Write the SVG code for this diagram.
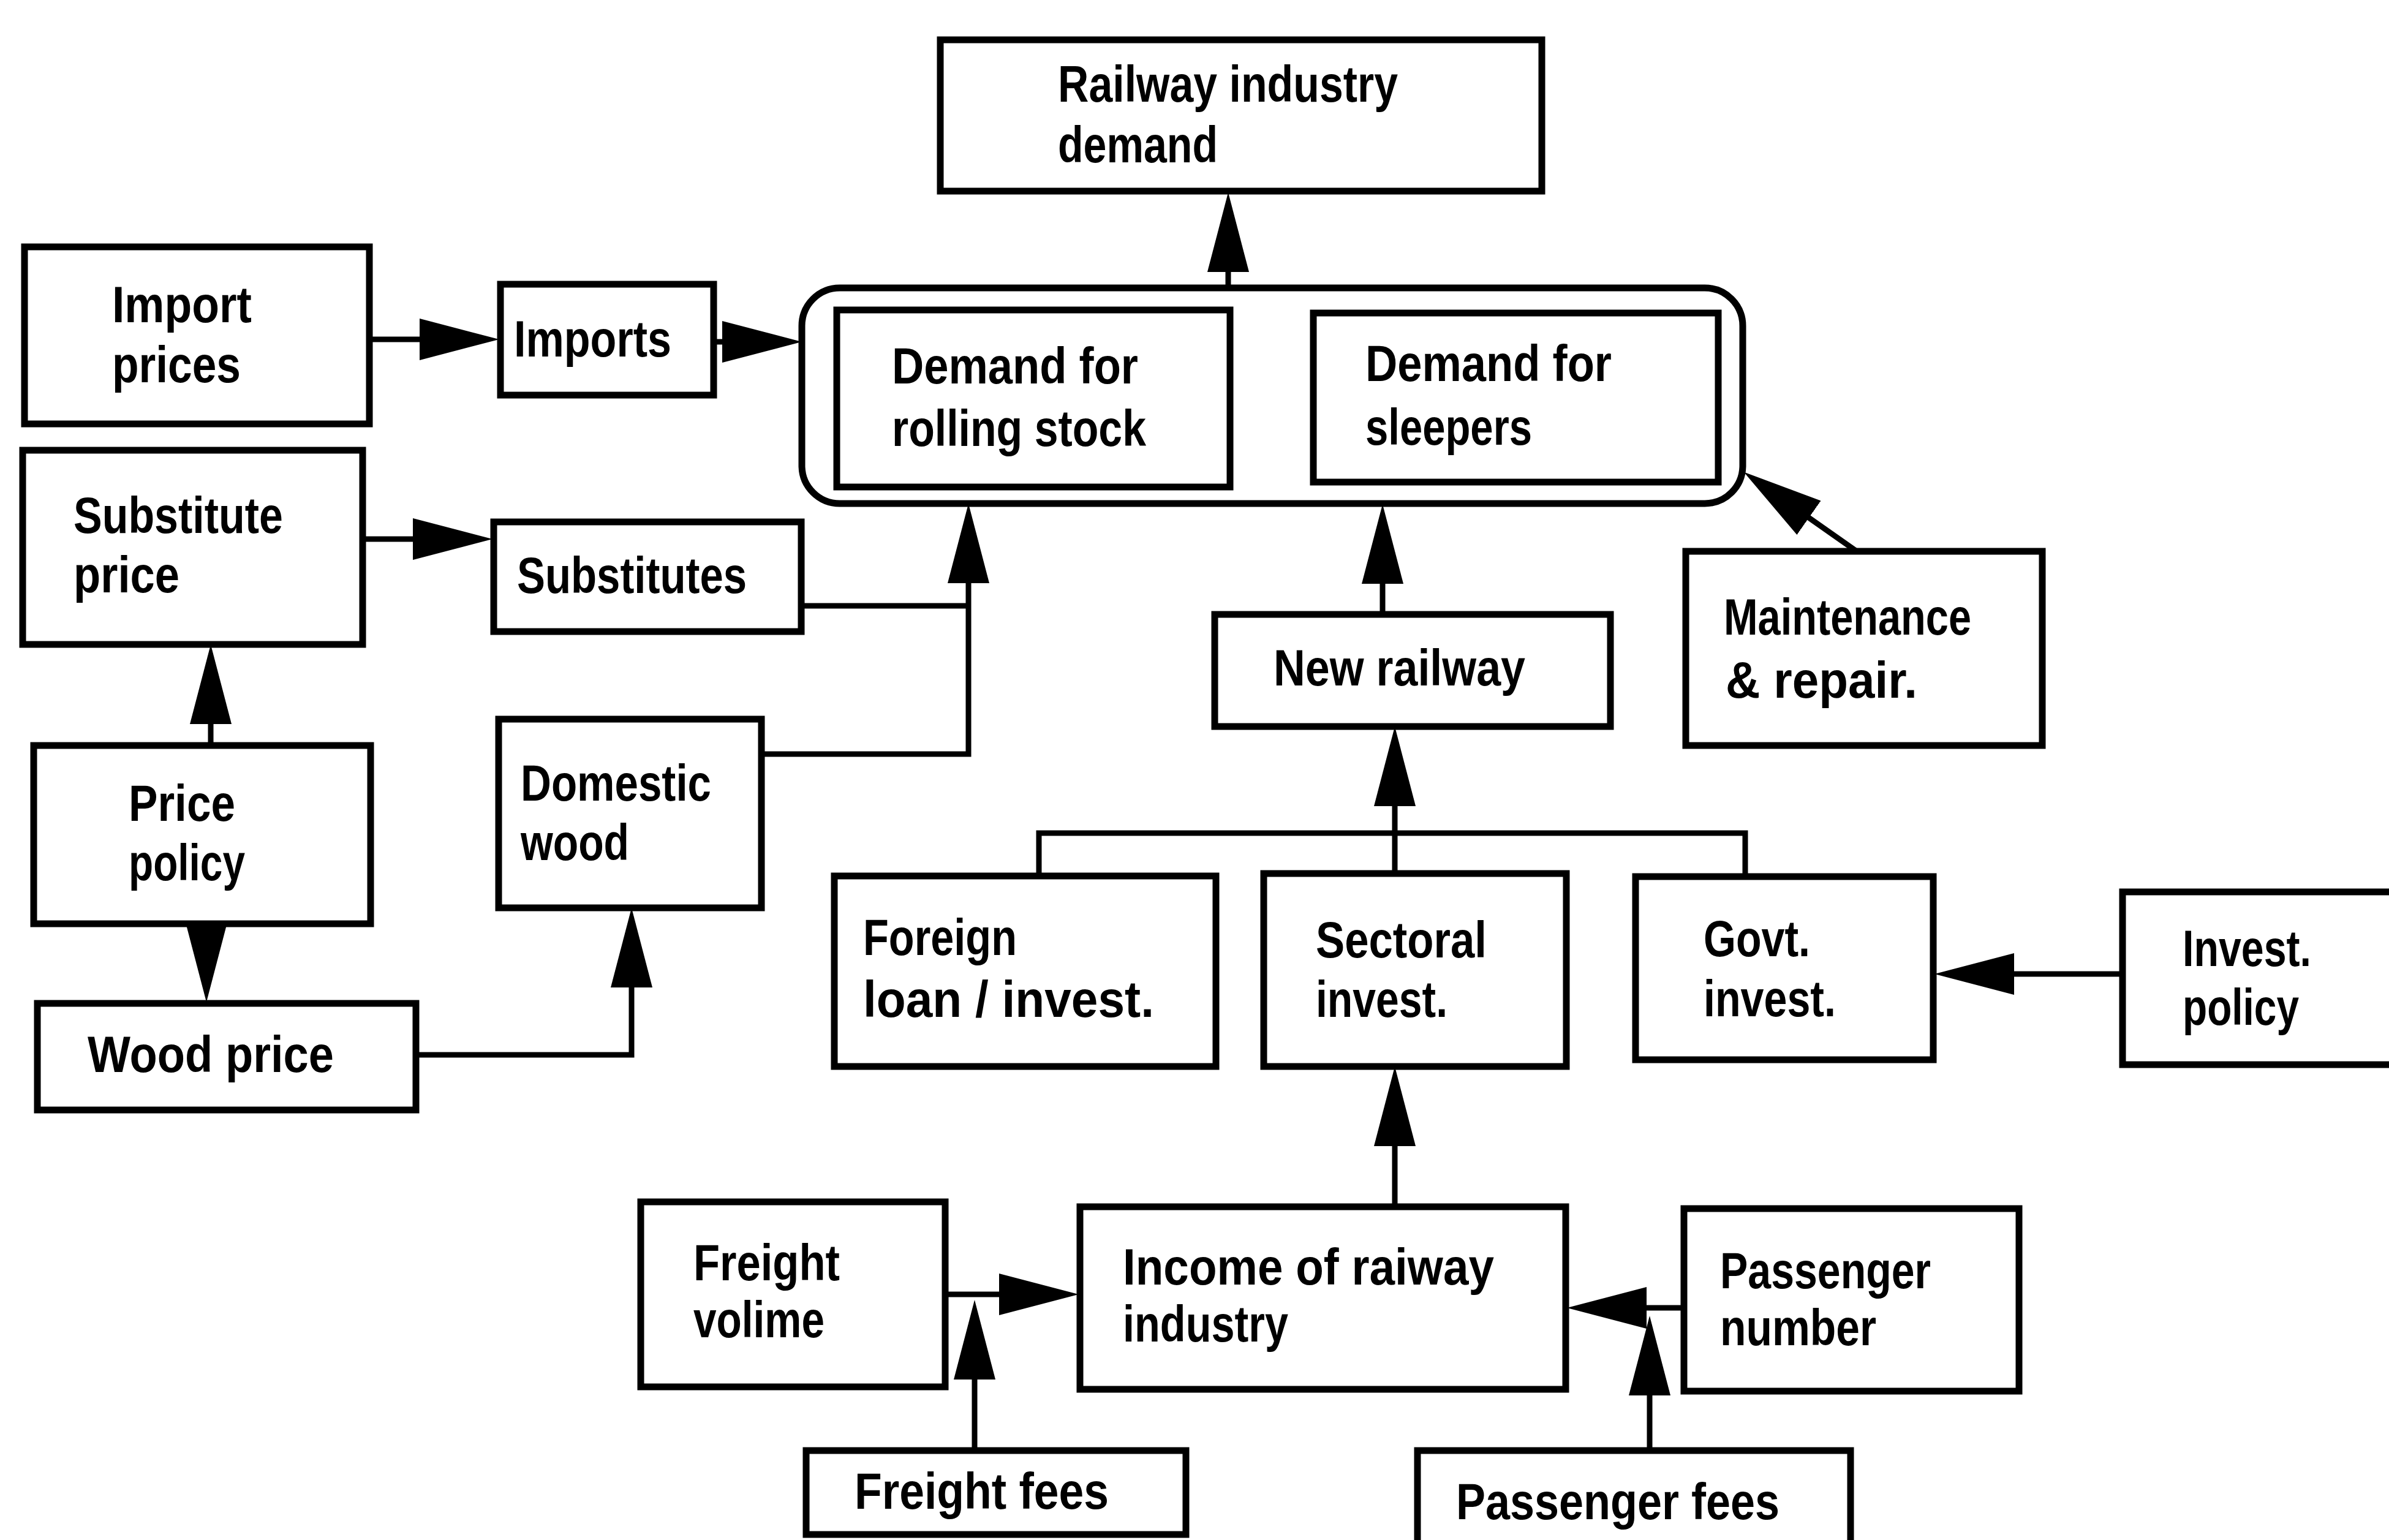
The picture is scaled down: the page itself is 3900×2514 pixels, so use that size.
<svg xmlns="http://www.w3.org/2000/svg" width="3900" height="2514" viewBox="0 0 3900 2514">
<style>
.b{fill:#fff;stroke:#000;stroke-width:11}
.c{fill:none;stroke:#000;stroke-width:9}
.t{font-family:"Liberation Sans",Arial,sans-serif;font-size:84px;font-weight:bold;fill:#000}
</style>
<defs>
<marker id="ah" viewBox="0 0 130 68" refX="110" refY="34" markerWidth="130" markerHeight="68" markerUnits="userSpaceOnUse" orient="auto">
<path d="M0,0 L130,34 L0,68 Z" fill="#000"/>
</marker>
</defs>
<rect width="3900" height="2514" fill="#fff"/>
<g id="connectors">
<path class="c" d="M603,554 H795" marker-end="url(#ah)"/>
<path class="c" d="M1165,558 H1289" marker-end="url(#ah)"/>
<path class="c" d="M592,880 H784" marker-end="url(#ah)"/>
<path class="c" d="M1308,989 H1581"/>
<path class="c" d="M1243,1231 H1581 V842" marker-end="url(#ah)"/>
<path class="c" d="M2005,470 V334" marker-end="url(#ah)"/>
<path class="c" d="M2257,1003 V843" marker-end="url(#ah)"/>
<path class="c" d="M3031,900 L2863,782" marker-end="url(#ah)"/>
<path class="c" d="M1696,1430 V1360 H2849 V1431"/>
<path class="c" d="M2277,1426 V1206" marker-end="url(#ah)"/>
<path class="c" d="M344,1217 V1072" marker-end="url(#ah)"/>
<path class="c" d="M337,1508 V1616" marker-end="url(#ah)"/>
<path class="c" d="M679,1722 H1031 V1502" marker-end="url(#ah)"/>
<path class="c" d="M2277,1970 V1761" marker-end="url(#ah)"/>
<path class="c" d="M1543,2113 H1741" marker-end="url(#ah)"/>
<path class="c" d="M1591,2368 V2142" marker-end="url(#ah)"/>
<path class="c" d="M2749,2135 H2578" marker-end="url(#ah)"/>
<path class="c" d="M2693,2368 V2168" marker-end="url(#ah)"/>
<path class="c" d="M3465,1590 H3178" marker-end="url(#ah)"/>
</g>
<g id="railway-demand"><rect class="b" x="1535" y="65" width="982" height="247"/>
<text class="t" x="1727" y="166" textLength="555" lengthAdjust="spacingAndGlyphs">Railway industry</text>
<text class="t" x="1727" y="265" textLength="261" lengthAdjust="spacingAndGlyphs">demand</text></g>
<g id="import-prices"><rect class="b" x="40" y="403" width="563" height="289"/>
<text class="t" x="183" y="526" textLength="228" lengthAdjust="spacingAndGlyphs">Import</text>
<text class="t" x="183" y="624" textLength="210" lengthAdjust="spacingAndGlyphs">prices</text></g>
<g id="imports"><rect class="b" x="817" y="464" width="348" height="181"/>
<text class="t" x="839" y="582" textLength="257" lengthAdjust="spacingAndGlyphs">Imports</text></g>
<g id="substitute-price"><rect class="b" x="37" y="735" width="555" height="317"/>
<text class="t" x="120" y="870" textLength="342" lengthAdjust="spacingAndGlyphs">Substitute</text>
<text class="t" x="120" y="967" textLength="173" lengthAdjust="spacingAndGlyphs">price</text></g>
<g id="substitutes"><rect class="b" x="806" y="852" width="502" height="179"/>
<text class="t" x="844" y="968" textLength="375" lengthAdjust="spacingAndGlyphs">Substitutes</text></g>
<g id="price-policy"><rect class="b" x="55" y="1217" width="550" height="291"/>
<text class="t" x="210" y="1340" textLength="174" lengthAdjust="spacingAndGlyphs">Price</text>
<text class="t" x="210" y="1437" textLength="190" lengthAdjust="spacingAndGlyphs">policy</text></g>
<g id="wood-price"><rect class="b" x="61" y="1638" width="618" height="174"/>
<text class="t" x="143" y="1750" textLength="402" lengthAdjust="spacingAndGlyphs">Wood price</text></g>
<g id="domestic-wood"><rect class="b" x="814" y="1174" width="429" height="308"/>
<text class="t" x="850" y="1307" textLength="311" lengthAdjust="spacingAndGlyphs">Domestic</text>
<text class="t" x="850" y="1404" textLength="177" lengthAdjust="spacingAndGlyphs">wood</text></g>
<g id="demand-group"><rect class="b" x="1309" y="470" width="1536" height="352" rx="62" ry="62"/></g>
<g id="demand-rolling-stock"><rect class="b" x="1366" y="506" width="642" height="289"/>
<text class="t" x="1456" y="626" textLength="402" lengthAdjust="spacingAndGlyphs">Demand for</text>
<text class="t" x="1456" y="728" textLength="415" lengthAdjust="spacingAndGlyphs">rolling stock</text></g>
<g id="demand-sleepers"><rect class="b" x="2144" y="511" width="661" height="276"/>
<text class="t" x="2229" y="622" textLength="402" lengthAdjust="spacingAndGlyphs">Demand for</text>
<text class="t" x="2229" y="726" textLength="272" lengthAdjust="spacingAndGlyphs">sleepers</text></g>
<g id="new-railway"><rect class="b" x="1983" y="1003" width="646" height="183"/>
<text class="t" x="2079" y="1119" textLength="411" lengthAdjust="spacingAndGlyphs">New railway</text></g>
<g id="maintenance"><rect class="b" x="2752" y="900" width="582" height="317"/>
<text class="t" x="2814" y="1036" textLength="404" lengthAdjust="spacingAndGlyphs">Maintenance</text>
<text class="t" x="2817" y="1139" textLength="313" lengthAdjust="spacingAndGlyphs">&amp; repair.</text></g>
<g id="foreign-loan"><rect class="b" x="1362" y="1430" width="623" height="311"/>
<text class="t" x="1409" y="1559" textLength="251" lengthAdjust="spacingAndGlyphs">Foreign</text>
<text class="t" x="1409" y="1660" textLength="475" lengthAdjust="spacingAndGlyphs">loan / invest.</text></g>
<g id="sectoral-invest"><rect class="b" x="2063" y="1426" width="494" height="315"/>
<text class="t" x="2148" y="1563" textLength="279" lengthAdjust="spacingAndGlyphs">Sectoral</text>
<text class="t" x="2148" y="1660" textLength="215" lengthAdjust="spacingAndGlyphs">invest.</text></g>
<g id="govt-invest"><rect class="b" x="2670" y="1431" width="486" height="299"/>
<text class="t" x="2781" y="1561" textLength="174" lengthAdjust="spacingAndGlyphs">Govt.</text>
<text class="t" x="2781" y="1659" textLength="216" lengthAdjust="spacingAndGlyphs">invest.</text></g>
<g id="invest-policy"><rect class="b" x="3465" y="1456" width="500" height="282"/>
<text class="t" x="3563" y="1577" textLength="210" lengthAdjust="spacingAndGlyphs">Invest.</text>
<text class="t" x="3563" y="1673" textLength="190" lengthAdjust="spacingAndGlyphs">policy</text></g>
<g id="freight-volume"><rect class="b" x="1046" y="1962" width="497" height="302"/>
<text class="t" x="1132" y="2090" textLength="239" lengthAdjust="spacingAndGlyphs">Freight</text>
<text class="t" x="1132" y="2183" textLength="214" lengthAdjust="spacingAndGlyphs">volime</text></g>
<g id="income"><rect class="b" x="1763" y="1970" width="793" height="298"/>
<text class="t" x="1833" y="2097" textLength="606" lengthAdjust="spacingAndGlyphs">Income of raiway</text>
<text class="t" x="1833" y="2190" textLength="270" lengthAdjust="spacingAndGlyphs">industry</text></g>
<g id="passenger-number"><rect class="b" x="2749" y="1973" width="547" height="298"/>
<text class="t" x="2808" y="2103" textLength="344" lengthAdjust="spacingAndGlyphs">Passenger</text>
<text class="t" x="2808" y="2196" textLength="255" lengthAdjust="spacingAndGlyphs">number</text></g>
<g id="freight-fees"><rect class="b" x="1316" y="2368" width="620" height="137"/>
<text class="t" x="1395" y="2463" textLength="415" lengthAdjust="spacingAndGlyphs">Freight fees</text></g>
<g id="passenger-fees"><rect class="b" x="2314" y="2368" width="707" height="200"/>
<text class="t" x="2377" y="2480" textLength="528" lengthAdjust="spacingAndGlyphs">Passenger fees</text></g>
</svg>
